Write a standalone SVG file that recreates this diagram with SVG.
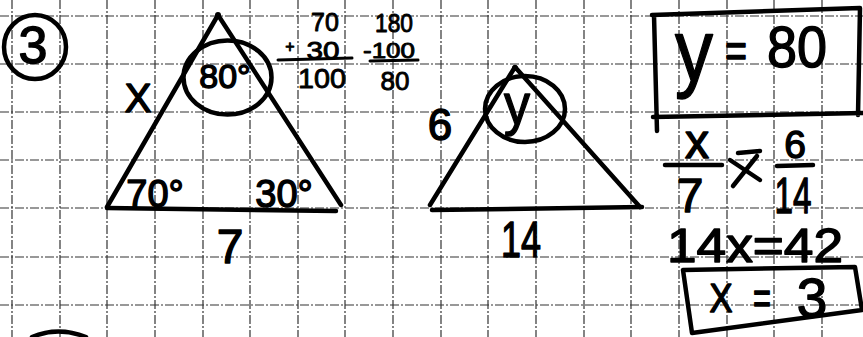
<svg xmlns="http://www.w3.org/2000/svg" width="863" height="337" viewBox="0 0 863 337">
<style>
.grid{stroke:#333;stroke-width:1.2;stroke-dasharray:9 2 2 2;fill:none}
.ink{stroke:#000;stroke-width:4.5;fill:none;stroke-linecap:round;stroke-linejoin:round}
.thin{stroke:#000;stroke-width:3;fill:none;stroke-linecap:round}
.t{font-family:"Liberation Sans",Arial,sans-serif;fill:#000;text-anchor:middle;stroke:#000;stroke-width:1.4;stroke-linejoin:round}
.s{stroke-width:0.9}
</style>
<rect width="863" height="337" fill="#fff"/>
<g id="grid">
<path class="grid" d="M12,0V337M60,0V337M107,0V337M155,0V337M203,0V337M250,0V337M298,0V337M345,0V337M393,0V337M441,0V337M488,0V337M536,0V337M584,0V337M631,0V337M679,0V337M727,0V337M774,0V337M822,0V337M0,16H863M0,64H863M0,112H863M0,160H863M0,208H863M0,257H863M0,305H863"/>
</g>
<g id="problem-number">
<ellipse class="ink" cx="35" cy="47" rx="31" ry="32" stroke-width="3.5"/>
<text class="t" x="33" y="63" font-size="52">3</text>
</g>
<g id="triangle1">
<path class="ink" d="M107,207 L218,15 L341,205"/>
<path class="ink" d="M107,208 L336,211"/>
<circle cx="218" cy="15" r="3"/>
<ellipse class="ink" cx="227.5" cy="77.5" rx="44" ry="37" stroke-width="3.5"/>
<text class="t" x="225" y="88" font-size="34">80°</text>
<text class="t" x="138" y="112" font-size="40">X</text>
<text class="t" x="155" y="207" font-size="38">70°</text>
<text class="t" x="284" y="207" font-size="38">30°</text>
<text class="t" x="230" y="263" font-size="48">7</text>
</g>
<g id="arithmetic">
<text class="t s" x="325" y="31" font-size="25">70</text>
<text class="t s" x="394" y="32" font-size="25" textLength="38" lengthAdjust="spacingAndGlyphs">180</text>
<text class="t s" x="290" y="52" font-size="16">+</text>
<text class="t s" x="323" y="58.5" font-size="24" textLength="33" lengthAdjust="spacingAndGlyphs">30</text>
<path class="thin" d="M278,60 L352,58"/>
<text class="t s" x="389" y="57.5" font-size="22" textLength="52" lengthAdjust="spacingAndGlyphs">-100</text>
<path class="thin" d="M370,61 L418,60"/>
<text class="t s" x="322" y="88" font-size="28" textLength="48" lengthAdjust="spacingAndGlyphs">100</text>
<text class="t s" x="395" y="90" font-size="26">80</text>
</g>
<g id="triangle2">
<path class="ink" d="M430,205 L515,67 L640,207"/>
<path class="ink" d="M432,210 L642,207"/>
<circle cx="515" cy="68" r="3"/>
<ellipse class="ink" cx="525" cy="109" rx="40" ry="33" stroke-width="3.5"/>
<text class="t" x="517" y="124" font-size="58" textLength="26" lengthAdjust="spacingAndGlyphs">y</text>
<text class="t" x="440" y="140" font-size="44">6</text>
<text class="t" x="521" y="257" font-size="50" textLength="40" lengthAdjust="spacingAndGlyphs">14</text>
</g>
<g id="answer-y">
<path class="ink" d="M652,15 L860,8 L858,115 M653,117 L863,113 M654,15 L657,131"/>
<text class="t" x="694" y="81" font-size="88" textLength="38" lengthAdjust="spacingAndGlyphs">y</text>
<text class="t" x="736" y="67" font-size="48" textLength="22" lengthAdjust="spacingAndGlyphs">=</text>
<text class="t" x="797" y="67" font-size="58" textLength="60" lengthAdjust="spacingAndGlyphs">80</text>
</g>
<g id="proportion">
<text class="t" x="697" y="158" font-size="48">x</text>
<path class="ink" d="M665,165 L722,165"/>
<text class="t" x="690" y="212" font-size="48">7</text>
<path class="ink" stroke-width="4" d="M738,153 L760,151 M757,156 L733,186 M730,160 L760,180"/>
<text class="t" x="795" y="158" font-size="39">6</text>
<path class="ink" d="M777,166 L813,165"/>
<text class="t" x="793" y="213" font-size="50" textLength="37" lengthAdjust="spacingAndGlyphs">14</text>
<text class="t" x="755" y="262" font-size="48" textLength="176" lengthAdjust="spacingAndGlyphs">14x=42</text>
</g>
<g id="answer-x">
<path class="ink" d="M683,270 L855,267 L862,310 L692,333 Z"/>
<text class="t" x="721" y="312" font-size="40" textLength="23" lengthAdjust="spacingAndGlyphs">X</text>
<text class="t" x="762" y="314" font-size="46" textLength="18" lengthAdjust="spacingAndGlyphs">=</text>
<text class="t" x="812" y="317" font-size="55">3</text>
</g>
<g id="next-problem">
<path class="ink" stroke-width="5" d="M32,337 Q58,326 86,337"/>
</g>
</svg>
